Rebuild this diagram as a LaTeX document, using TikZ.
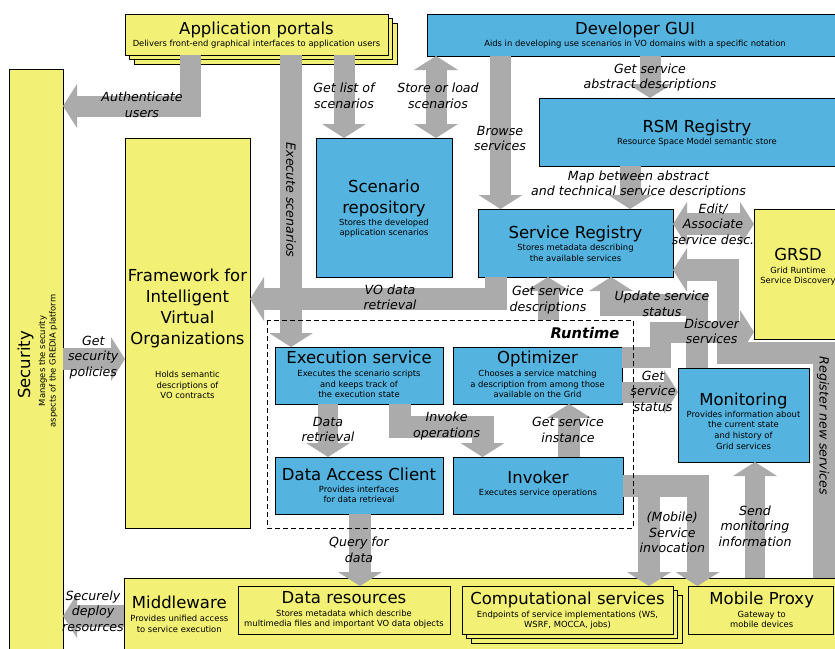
\documentclass[tikz,border=0pt]{standalone}
\usepackage{fontspec}
\setmainfont{DejaVu Sans}
\usetikzlibrary{arrows.meta}
\definecolor{yel}{HTML}{F2F075}
\definecolor{blu}{HTML}{54B3DF}
\definecolor{arrc}{HTML}{ABABAB}
\newcommand{\ttlf}{\fontsize{16.5}{21}\selectfont}
\newcommand{\dscf}{\fontsize{8.4}{10.6}\selectfont}
\newcommand{\lblf}{\fontsize{12.6}{15.6}\selectfont\itshape}
\newcommand{\rtf}{\fontsize{14.7}{17}\selectfont\bfseries\itshape}
\begin{document}
\begin{tikzpicture}[x=1pt,y=-1pt,
 box/.style={draw=black, line width=0.9pt, anchor=north west, inner sep=0pt, outer sep=0pt},
 ybox/.style={box, fill=yel},
 bbox/.style={box, fill=blu},
 ttl/.style={font=\ttlf, anchor=base, inner sep=0pt, align=center},
 dsc/.style={font=\dscf, anchor=base, inner sep=0pt, align=center},
 lbl/.style={font=\lblf, anchor=base, inner sep=0pt, align=center},
 blk/.style={draw=arrc, line width=21pt, line join=miter, -{Triangle[width=44pt,length=14pt,line width=0pt]}},
 dblk/.style={draw=arrc, line width=21pt, {Triangle[width=44pt,length=14pt,line width=0pt]}-{Triangle[width=44pt,length=14pt,line width=0pt]}}
]
\useasboundingbox (0,0) rectangle (835,648);
\clip (0,0) rectangle (835,648);

% ---------- boxes
\node[ybox, minimum width=53.5pt, minimum height=600pt] (sec) at (9.5,69) {};
\node[ybox, minimum width=125pt, minimum height=390pt] (fw) at (125,138) {};
\node[ybox, minimum width=720pt, minimum height=80pt] (mw) at (124,578) {};
\node[ybox, minimum width=212pt, minimum height=48pt] (dr) at (238,586) {};
\node[ybox, minimum width=211pt, minimum height=48pt] (cs3) at (471,595) {};
\node[ybox, minimum width=211pt, minimum height=48pt] (cs2) at (466.5,590.5) {};
\node[ybox, minimum width=211pt, minimum height=48pt] (cs) at (462,586) {};
\node[ybox, minimum width=145pt, minimum height=48pt] (mp) at (688,586) {};
\node[ybox, minimum width=88pt, minimum height=130pt] (grsd) at (754,209) {};
\node[ybox, minimum width=263pt, minimum height=41pt] (app3) at (134,23) {};
\node[ybox, minimum width=263pt, minimum height=41pt] (app2) at (129.5,18.5) {};
\node[ybox, minimum width=263pt, minimum height=41pt] (app) at (125,14) {};
\node[bbox, minimum width=420pt, minimum height=42pt] (dev) at (427,14) {};
\node[bbox, minimum width=316pt, minimum height=68pt] (rsm) at (539,98) {};
\node[bbox, minimum width=136pt, minimum height=139pt] (scen) at (316,138) {};
\node[bbox, minimum width=195pt, minimum height=68pt] (sreg) at (478,209) {};
\node[bbox, minimum width=168pt, minimum height=57pt] (exe) at (275,347) {};
\node[bbox, minimum width=169pt, minimum height=57pt] (opt) at (453,347) {};
\node[bbox, minimum width=168pt, minimum height=57pt] (dac) at (275,457) {};
\node[bbox, minimum width=170pt, minimum height=57pt] (inv) at (453,457) {};
\node[bbox, minimum width=131pt, minimum height=94pt] (mon) at (678,368) {};
\path node[anchor=north west, minimum width=366pt, minimum height=208pt, inner sep=0pt, outer sep=0pt] (rt) at (267,320) {};

% ---------- arrows
\draw[blk] (app.south -| 190.5,0) -- (190.5,106) -- (sec.east |- 0,106);
\draw[blk, line width=22pt] (sreg.south -| 496,0) -- (496,299) -- (fw.east |- 0,299);
\draw[blk, line width=22pt] (app.south -| 291,0) -- (exe.north -| 291,0);
\draw[blk] (app.south -| 344,0) -- (scen.north -| 344,0);
\draw[dblk] (dev.south -| 436,0) -- (scen.north -| 436,0);
\draw[blk] (dev.south -| 500.5,0) -- (sreg.north -| 500.5,0);
\draw[blk] (dev.south -| 650,0) -- (rsm.north -| 650,0);
\draw[blk] (rsm.south -| 630,0) -- (sreg.north -| 630,0);
\draw[dblk, line width=22pt] (sreg.east |- 0,224) -- (grsd.west |- 0,224);
\draw[blk] (rt.north -| 548,0) -- (sreg.south -| 548,0);
\draw[blk, line width=22pt] (mon.north -| 696.5,0) -- (696.5,305) -- (611,305) -- (sreg.south -| 611,0);
\draw[blk] (opt.east |- 0,357) -- (660,357) -- (660,332) -- (grsd.west |- 0,332);
\draw[blk, line width=22pt] (mw.north -| 824,0) -- (824,353) -- (727.5,353) -- (727.5,270) -- (sreg.east |- 0,270);
\draw[blk] (opt.east |- 0,392) -- (mon.west |- 0,392);
\draw[blk, line width=20pt] (exe.south -| 328,0) -- (dac.north -| 328,0);
\draw[blk, line width=22pt] (exe.south -| 400,0) -- (400,427) -- (482.5,427) -- (inv.north -| 482.5,0);
\draw[blk, line width=22pt] (inv.north -| 569,0) -- (opt.south -| 569,0);
\draw[blk, line width=22pt] (inv.east |- 0,486) -- (697.5,486) -- (mp.north -| 697.5,0);
\draw[blk, line width=22pt] (649,486) -- (cs.north -| 649,0);
\draw[blk, line width=20pt] (mw.north -| 755,0) -- (mon.south -| 755,0);
\draw[blk, line width=22pt] (dac.south -| 360,0) -- (dr.north -| 360,0);
\draw[blk, line width=22pt] (mw.west |- 0,616) -- (sec.east |- 0,616);
\draw[blk, line width=22pt] (sec.east |- 0,359) -- (fw.west |- 0,359);

% runtime frame
\draw[line width=1pt, dash pattern=on 5pt off 3pt] (rt.north west) rectangle (rt.south east);

% ---------- box texts (anchor = baseline of the last line)
\node[ttl] (app-t) at (256.5,34.5) {Application portals};
\node[dsc] (app-d) at (256.5,46.5) {Delivers front-end graphical interfaces to application users};
\node[ttl] (dev-t) at (635,34.5) {Developer GUI};
\node[dsc] (dev-d) at (635,46.5) {Aids in developing use scenarios in VO domains with a specific notation};
\node[ttl] (rsm-t) at (697,132) {RSM Registry};
\node[dsc] (rsm-d) at (697,144) {Resource Space Model semantic store};
\node[ttl] (scen-t) at (384,213) {Scenario\\repository};
\node[dsc] (scen-d) at (384,235.6) {Stores the developed\\application scenarios};
\node[ttl] (sreg-t) at (575.5,238.3) {Service Registry};
\node[dsc] (sreg-d) at (575.5,261.3) {Stores metadata describing\\the available services};
\node[ttl] (grsd-t) at (798,260) {GRSD};
\node[dsc] (grsd-d) at (798,283.9) {Grid Runtime\\Service Discovery};
\node[ttl] (fw-t) at (187.5,344) {Framework for\\Intelligent\\Virtual\\Organizations};
\node[dsc] (fw-d) at (187.5,398.9) {Holds semantic\\descriptions of\\VO contracts};
\node[ttl, rotate=90] (sec-t) at (30,365) {Security};
\node[dsc, rotate=90] (sec-d) at (55.6,361) {Manages the security\\aspects of the GREDIA platform};
\node[ttl] (exe-t) at (359,363.3) {Execution service};
\node[dsc] (exe-d) at (359,397.9) {Executes the scenario scripts\\and keeps track of\\the execution state};
\node[ttl] (opt-t) at (537.5,363.3) {Optimizer};
\node[dsc] (opt-d) at (537.5,397.9) {Chooses a service matching\\a description from among those\\available on the Grid};
\node[ttl] (dac-t) at (359,480) {Data Access Client};
\node[dsc] (dac-d) at (359,502.6) {Provides interfaces\\for data retrieval};
\node[ttl] (inv-t) at (538,483) {Invoker};
\node[dsc] (inv-d) at (538,495) {Executes service operations};
\node[ttl] (mon-t) at (743.5,405) {Monitoring};
\node[dsc] (mon-d) at (743.5,449.1) {Provides information about\\the current state\\and history of\\Grid services};
\node[ttl] (mw-t) at (179.3,608.3) {Middleware};
\node[dsc] (mw-d) at (179.3,632.3) {Provides unified access\\to service execution};
\node[ttl] (dr-t) at (344,603.3) {Data resources};
\node[dsc] (dr-d) at (344,626.6) {Stores metadata which describe\\multimedia files and important VO data objects};
\node[ttl] (cs-t) at (567.5,604) {Computational services};
\node[dsc] (cs-d) at (567.5,627.9) {Endpoints of service implementations (WS,\\WSRF, MOCCA, jobs)};
\node[ttl] (mp-t) at (761.7,604) {Mobile Proxy};
\node[dsc] (mp-d) at (761.7,627.9) {Gateway to\\mobile devices};
\node[font=\rtf, anchor=base, inner sep=0pt] (rt-l) at (585,338) {Runtime};

% ---------- arrow labels (anchor = baseline of the last line)
\node[lbl] (l1) at (142,117.3) {Authenticate\\users};
\node[lbl] (l2) at (344,108.3) {Get list of\\scenarios};
\node[lbl] (l3) at (438,108.3) {Store or load\\scenarios};
\node[lbl] (l4) at (500,150.6) {Browse\\services};
\node[lbl] (l5) at (650,88.9) {Get service\\abstract descriptions};
\node[lbl] (l6) at (638.5,195.6) {Map between abstract\\and technical service descriptions};
\node[lbl] (l7) at (713,244.5) {Edit/\\Associate\\service desc.};
\node[lbl] (l8) at (548,311.3) {Get service\\descriptions};
\node[lbl] (l9) at (390,309.9) {VO data\\retrieval};
\node[lbl] (l10) at (662,316.3) {Update service\\status};
\node[lbl] (l11) at (711.7,343.9) {Discover\\services};
\node[lbl] (l12) at (653,411.2) {Get\\service\\status};
\node[lbl] (l13) at (328,441.6) {Data\\retrieval};
\node[lbl] (l14) at (446.7,437.3) {Invoke\\operations};
\node[lbl] (l15) at (568,442.3) {Get service\\instance};
\node[lbl] (l16) at (359,562.3) {Query for\\data};
\node[lbl] (l17) at (672.3,552.9) {(Mobile)\\Service\\invocation};
\node[lbl] (l18) at (755,546.2) {Send\\monitoring\\information};
\node[lbl] (l19) at (93.3,376.2) {Get\\security\\policies};
\node[lbl] (l20) at (93,631.2) {Securely\\deploy\\resources};
\node[lbl, rotate=-90, anchor=center] (l21) at (291,200) {Execute scenarios};
\node[lbl, rotate=-90, anchor=center] (l22) at (823,426) {Register new services};
\end{tikzpicture}
\end{document}
